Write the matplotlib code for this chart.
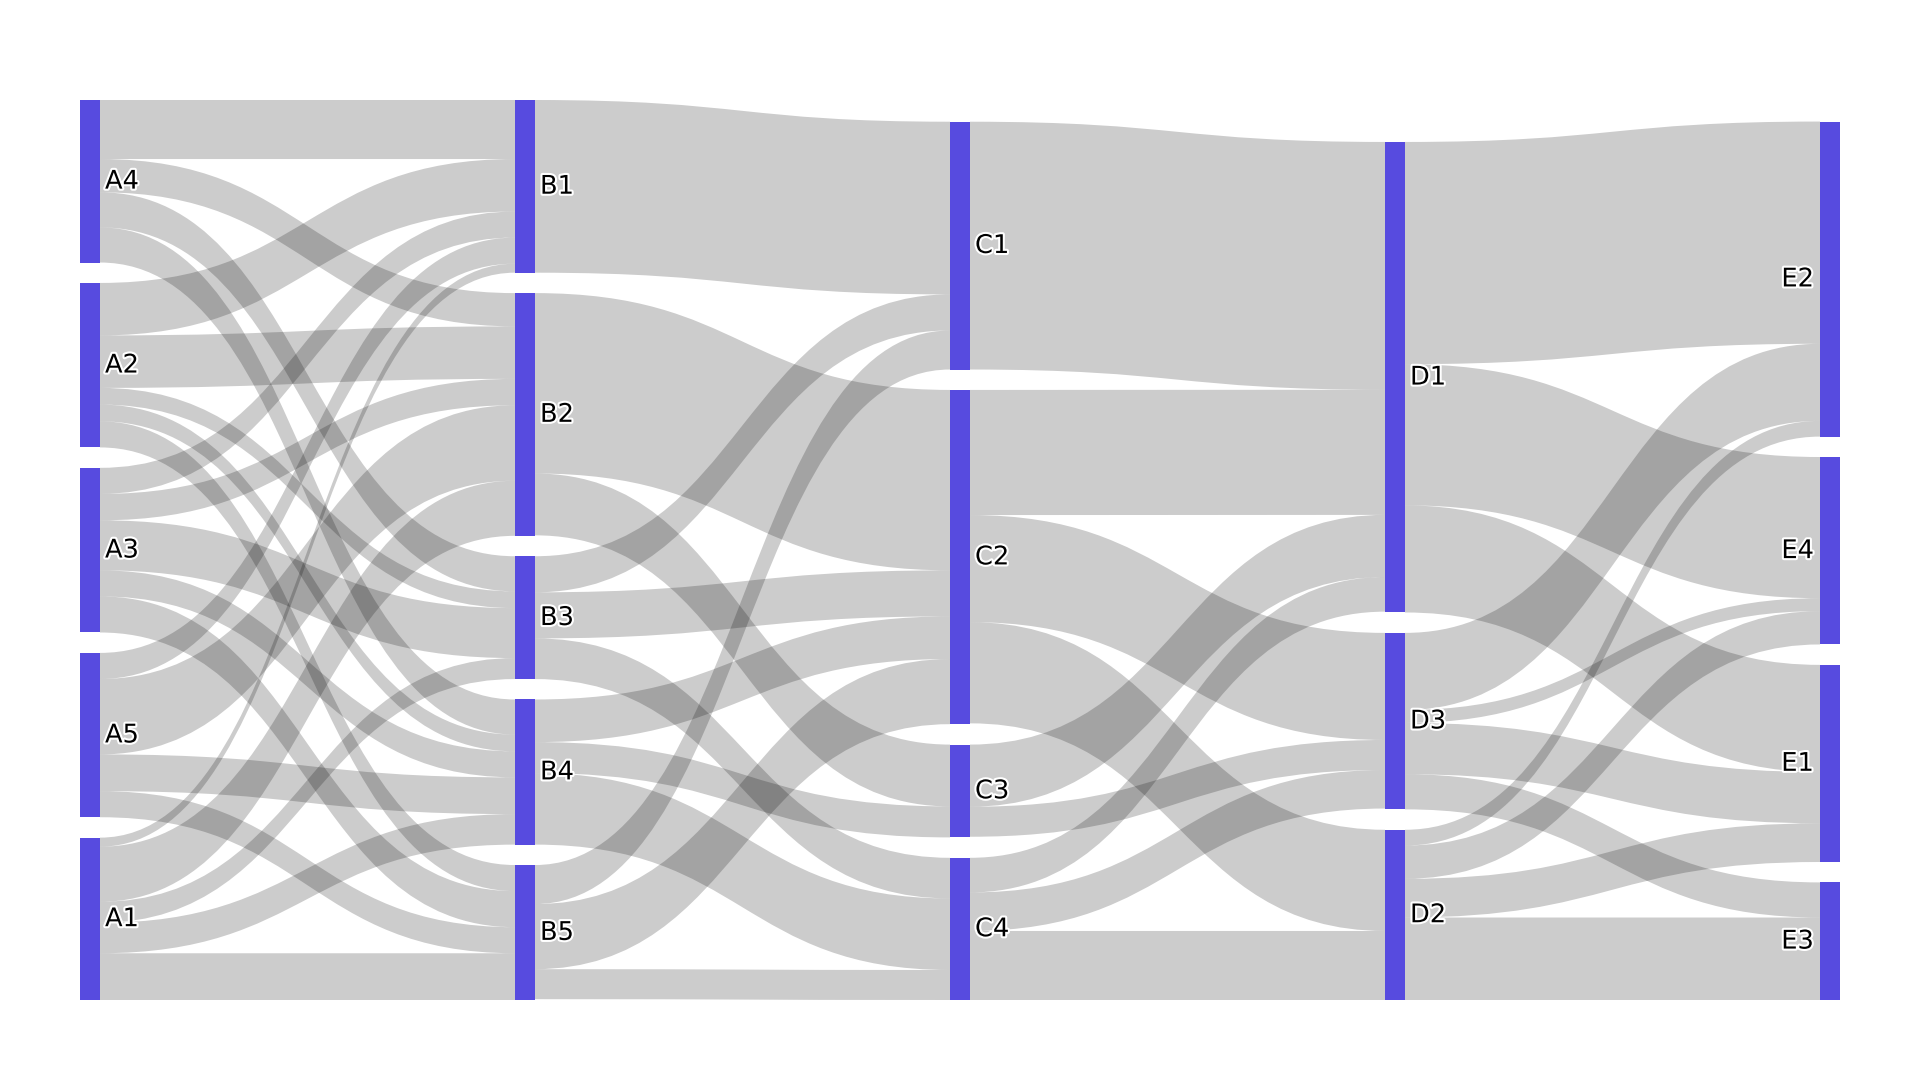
import matplotlib
matplotlib.use("Agg")
import matplotlib.pyplot as plt
from matplotlib.path import Path
from matplotlib.patches import PathPatch, Rectangle
import matplotlib.patheffects as pe

# ---- data ----
col_a = ["A4", "A2", "A3", "A5", "A1"]
col_b = ["B1", "B2", "B3", "B4", "B5"]
col_c = ["C1", "C2", "C3", "C4"]
col_d = ["D1", "D3", "D2"]
col_e = ["E2", "E4", "E1", "E3"]

link_source = [
    "A4", "A4", "A4", "A4",
    "A2", "A2", "A2", "A2", "A2",
    "A3", "A3", "A3", "A3", "A3",
    "A5", "A5", "A5", "A5",
    "A1", "A1", "A1", "A1", "A1",
    "B1", "B2", "B2", "B3", "B3", "B3", "B4", "B4", "B4", "B5", "B5", "B5",
    "C1", "C2", "C2", "C2", "C3", "C3", "C4", "C4", "C4",
    "D1", "D1", "D1", "D3", "D3", "D3", "D3", "D2", "D2", "D2", "D2",
]
link_target = [
    "B1", "B2", "B3", "B4",
    "B1", "B2", "B3", "B4", "B5",
    "B1", "B2", "B3", "B4", "B5",
    "B1", "B2", "B4", "B5",
    "B1", "B2", "B3", "B4", "B5",
    "C1", "C2", "C3", "C1", "C2", "C4", "C2", "C3", "C4", "C1", "C2", "C4",
    "D1", "D1", "D3", "D2", "D1", "D3", "D1", "D3", "D2",
    "E2", "E4", "E1", "E2", "E4", "E1", "E3", "E2", "E4", "E1", "E3",
]
link_value = [
    36.0, 20.3, 21.4, 21.4,
    32.0, 32.0, 10.2, 10.2, 15.9,
    15.9, 16.1, 30.5, 15.9, 22.0,
    15.9, 46.0, 22.4, 15.9,
    5.5, 33.6, 12.8, 18.6, 28.5,
    105.3, 110.0, 37.7, 22.0, 28.1, 24.8, 26.0, 18.9, 43.6, 23.8, 39.7, 18.3,
    151.1, 76.3, 65.3, 61.7, 37.9, 18.3, 21.1, 23.5, 42.1,
    135.5, 86.1, 65.3, 47.0, 7.9, 31.3, 21.4, 9.6, 20.3, 23.6, 50.3,
]

# ---- layout / style ----
W, H = 1920, 1080
X_LEFT, X_RIGHT = 80, 1840
Y_TOP, Y_BOTTOM = 100, 1000
NODE_W = 20
PAD = 20.4
NODE_COLOR = "#574BDF"
LINK_COLOR = (0, 0, 0, 0.2)
FONT_SIZE = 18.5

columns = [col_a, col_b, col_c, col_d, col_e]

inflow, outflow = {}, {}
for s, t, v in zip(link_source, link_target, link_value):
    outflow[s] = outflow.get(s, 0) + v
    inflow[t] = inflow.get(t, 0) + v
node_val = {n: max(inflow.get(n, 0), outflow.get(n, 0)) for col in columns for n in col}

ky = min((Y_BOTTOM - Y_TOP - (len(col) - 1) * PAD) / sum(node_val[n] for n in col)
         for col in columns)

node_x, node_y0, node_y1, node_col = {}, {}, {}, {}
ncol = len(columns)
for ci, col in enumerate(columns):
    x = X_LEFT + ci * (X_RIGHT - NODE_W - X_LEFT) / (ncol - 1)
    total = sum(node_val[n] for n in col) * ky + (len(col) - 1) * PAD
    y = Y_BOTTOM - total
    for n in col:
        node_x[n] = x
        node_y0[n] = y
        node_y1[n] = y + node_val[n] * ky
        node_col[n] = ci
        y = node_y1[n] + PAD

# link offsets
idx = list(range(len(link_value)))
src_off, tgt_off = {}, {}
for n in node_x:
    outs = sorted([i for i in idx if link_source[i] == n], key=lambda i: node_y0[link_target[i]])
    y = node_y0[n]
    for i in outs:
        src_off[i] = y
        y += link_value[i] * ky
    ins = sorted([i for i in idx if link_target[i] == n], key=lambda i: node_y0[link_source[i]])
    y = node_y0[n]
    for i in ins:
        tgt_off[i] = y
        y += link_value[i] * ky

fig = plt.figure(figsize=(W / 100, H / 100), dpi=100)
ax = fig.add_axes([0, 0, 1, 1])
ax.set_xlim(0, W)
ax.set_ylim(H, 0)
ax.axis("off")

for i in idx:
    s, t = link_source[i], link_target[i]
    x0 = node_x[s] + NODE_W
    x1 = node_x[t]
    xm = (x0 + x1) / 2
    h = link_value[i] * ky
    ys0, yt0 = src_off[i], tgt_off[i]
    ys1, yt1 = ys0 + h, yt0 + h
    verts = [(x0, ys0), (xm, ys0), (xm, yt0), (x1, yt0),
             (x1, yt1), (xm, yt1), (xm, ys1), (x0, ys1), (x0, ys0)]
    codes = [Path.MOVETO, Path.CURVE4, Path.CURVE4, Path.CURVE4,
             Path.LINETO, Path.CURVE4, Path.CURVE4, Path.CURVE4, Path.CLOSEPOLY]
    ax.add_patch(PathPatch(Path(verts, codes), facecolor=LINK_COLOR, edgecolor="none", lw=0))

cap_px = 0.729 * FONT_SIZE * 100 / 72
for n in node_x:
    ax.add_patch(Rectangle((node_x[n], node_y0[n]), NODE_W, node_y1[n] - node_y0[n],
                           facecolor=NODE_COLOR, edgecolor="none"))
    yc = (node_y0[n] + node_y1[n]) / 2 - 2
    if node_col[n] == ncol - 1:
        tx, ha = node_x[n] - 6, "right"
    else:
        tx, ha = node_x[n] + NODE_W + 5, "left"
    ax.text(tx, yc + cap_px / 2, n, ha=ha, va="baseline", fontsize=FONT_SIZE,
            family="DejaVu Sans", color="black",
            path_effects=[pe.withStroke(linewidth=3, foreground="white")])

fig.savefig("out.png", dpi=100, facecolor="white")
